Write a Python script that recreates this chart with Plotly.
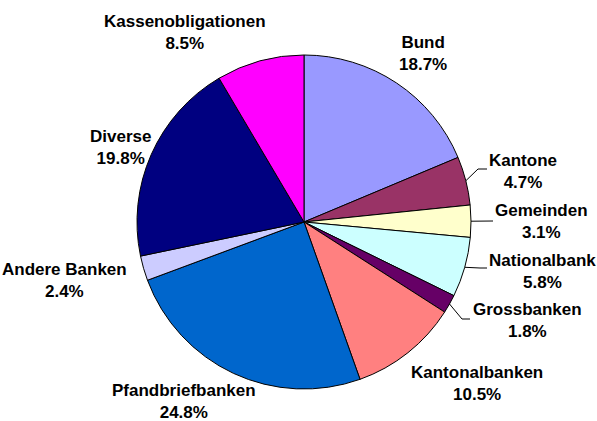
import numpy as np
import plotly.graph_objects as go

# ---- data ----
categories = ["Bund", "Kantone", "Gemeinden", "Nationalbank", "Grossbanken",
              "Kantonalbanken", "Pfandbriefbanken", "Andere Banken", "Diverse",
              "Kassenobligationen"]
shares = [18.7, 4.7, 3.1, 5.8, 1.8, 10.5, 24.8, 2.4, 19.8, 8.5]

# ---- style ----
colors = ["#9999FF", "#993366", "#FFFFCC", "#CCFFFF", "#660066",
          "#FF8080", "#0066CC", "#CCCCFF", "#000080", "#FF00FF"]
W, H = 597, 421
CX, CY, R = 304, 222, 167  # pie centre / radius in px
# label block centres (px)
label_pos = [(423, 54), (523, 171), (541, 221), (542, 271), (527, 320),
             (477, 383), (184, 401), (64, 280), (120, 147), (185, 32)]
# leader lines: category index -> intermediate points (px)
leaders = {1: [(478, 169), (487, 169)],
           2: [(493, 221)],
           3: [(480, 268), (487, 268)],
           4: [(462, 319), (470, 319)]}

fig = go.Figure(go.Pie(
    labels=categories, values=shares, sort=False, direction="clockwise",
    rotation=0, textinfo="none", hoverinfo="label+percent",
    marker=dict(colors=colors, line=dict(color="black", width=1)),
    domain=dict(x=[(CX - R) / W, (CX + R) / W],
                y=[(H - CY - R) / H, (H - CY + R) / H]),
    showlegend=False,
))

def px2paper(x, y):
    return x / W, 1 - y / H

for cat, v, (lx, ly) in zip(categories, shares, label_pos):
    px, py = px2paper(lx, ly)
    fig.add_annotation(x=px, y=py, xref="paper", yref="paper",
                       text=f"<b>{cat}<br>{v:.1f}%</b>", showarrow=False,
                       xanchor="center", yanchor="middle", align="center",
                       font=dict(family="Liberation Sans, Arial", size=17, color="black"))

tot = sum(shares)
cum = np.cumsum([0] + shares)
for i, pts in leaders.items():
    mid = (cum[i] + cum[i + 1]) / 2 / tot * 2 * np.pi
    sx, sy = CX + R * np.sin(mid), CY - R * np.cos(mid)
    allpts = [(sx, sy)] + pts
    path = ""
    for k, (x, y) in enumerate(allpts):
        pxp, pyp = px2paper(x, y)
        path += ("M" if k == 0 else " L") + f" {pxp} {pyp}"
    fig.add_shape(type="path", path=path, xref="paper", yref="paper",
                  line=dict(color="black", width=1))

fig.update_layout(width=W, height=H, margin=dict(l=0, r=0, t=0, b=0),
                  paper_bgcolor="white", plot_bgcolor="white")
fig.write_html("out.html", config={"displayModeBar": False},
               post_script="document.body.style.margin='0';document.body.style.overflow='hidden';")
